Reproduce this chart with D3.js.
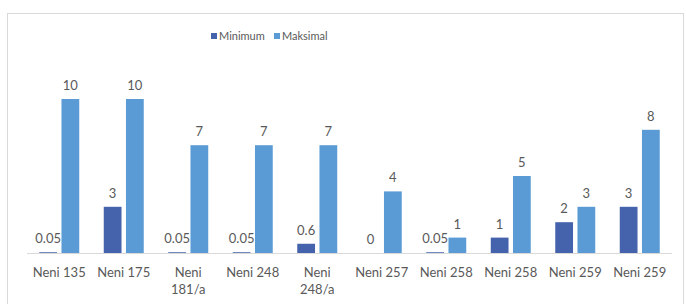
<!DOCTYPE html>
<head>
    <meta charset="utf-8">
    <title>Neni chart</title>
    <script src="https://d3js.org/d3.v7.min.js"></script>
</head>
<body>
<svg id="chart" width="686" height="304"></svg>
</body>
<script>
    var categories = ["Neni 135", "Neni 175", "Neni 181/a", "Neni 248", "Neni 248/a", "Neni 257", "Neni 258", "Neni 258", "Neni 259", "Neni 259"]
    var minimum = [0.05, 3, 0.05, 0.05, 0.6, 0, 0.05, 1, 2, 3]
    var maksimal = [10, 10, 7, 7, 7, 4, 1, 5, 3, 8]
    var seriesNames = ["Minimum", "Maksimal"]
    var colors = ["#4563ac", "#5b9bd5"]

    var svg = d3.select("#chart")
    var font = "Lato, 'Open Sans', sans-serif"

    // chart frame
    svg.append("rect").attr("x", 7.5).attr("y", 13.5).attr("width", 676).attr("height", 300)
        .attr("fill", "white").attr("stroke", "#d9d9d9")

    var plotLeft = 27, plotRight = 672, plotTop = 99, plotBottom = 253

    var x0 = d3.scaleBand().domain(d3.range(categories.length)).range([plotLeft, plotRight])
    var x1 = d3.scaleBand().domain([0, 1]).range([-20, 20]).paddingInner(0.2)
    var y = d3.scaleLinear().domain([0, 10]).range([plotBottom, plotTop])

    var series = [minimum, maksimal]

    series.forEach(function(vals, s) {
        var g = svg.append("g")
        g.selectAll("rect").data(vals).enter().append("rect")
            .attr("x", function(d, i) { return x0(i) + x0.bandwidth() / 2 + x1(s) })
            .attr("y", function(d) { return y(d) })
            .attr("width", x1.bandwidth())
            .attr("height", function(d) { return plotBottom - y(d) })
            .attr("fill", colors[s])
        g.selectAll("text").data(vals).enter().append("text")
            .attr("x", function(d, i) { return x0(i) + x0.bandwidth() / 2 + x1(s) + x1.bandwidth() / 2 })
            .attr("y", function(d) { return y(d) - 9 })
            .attr("text-anchor", "middle")
            .style("font-family", font).style("font-size", "13px").attr("fill", "#595959")
            .text(function(d) { return d })
    })

    // baseline
    svg.append("line").attr("x1", plotLeft).attr("x2", plotRight).attr("y1", plotBottom + 0.5).attr("y2", plotBottom + 0.5)
        .attr("stroke", "#d9d9d9")

    // category labels (wrap long ones)
    categories.forEach(function(c, i) {
        var cx = x0(i) + x0.bandwidth() / 2
        var lines = c.indexOf("/") >= 0 ? c.split(" ") : [c]
        var t = svg.append("text").attr("x", cx).attr("y", 277).attr("text-anchor", "middle")
            .style("font-family", font).style("font-size", "13px").attr("fill", "#595959")
        lines.forEach(function(l, k) {
            t.append("tspan").attr("x", cx).attr("dy", k == 0 ? 0 : 17).text(l)
        })
    })

    // legend
    var legX = [211, 274]
    seriesNames.forEach(function(n, s) {
        svg.append("rect").attr("x", legX[s]).attr("y", 33).attr("width", 6).attr("height", 6).attr("fill", colors[s])
        svg.append("text").attr("x", legX[s] + 8).attr("y", 40).text(n)
            .style("font-family", font).style("font-size", "11px").attr("fill", "#595959")
    })
</script>
<style>
    html, body { margin: 0; }
    svg { display: block; background: white; }
</style>
</html>
